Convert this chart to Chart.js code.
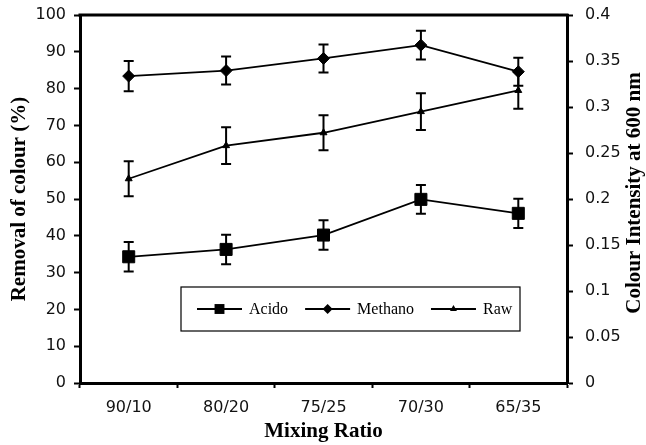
<!DOCTYPE html>
<html lang="en">
<head>
    <meta charset="UTF-8">
    <title>Removal of colour vs mixing ratio</title>
    <style>
        html, body { margin: 0; padding: 0; background: #fff; }
        #wrap { width: 646px; height: 445px; }
    </style>
</head>
<body>
    <div id="wrap"><canvas id="myChart" width="646" height="445"></canvas></div>

    <script src="https://cdn.jsdelivr.net/npm/chart.js"></script>
    <script>
    // data
    const categories = ['90/10', '80/20', '75/25', '70/30', '65/35'];
    const acido = [34.3, 36.3, 40.2, 49.9, 46.1];
    const acidoErr = [4.0, 4.0, 4.0, 3.9, 4.0];
    const methano = [83.4, 84.9, 88.2, 91.8, 84.6];
    const methanoErr = [4.1, 3.8, 3.8, 3.9, 3.8];
    // Raw is plotted against the right axis (colour intensity)
    const raw = [0.222, 0.258, 0.272, 0.295, 0.318];
    const rawErr = [0.019, 0.020, 0.019, 0.020, 0.020];

    const tickFont = { family: 'DejaVu Sans', size: 16 };
    const titleFont = { family: 'Liberation Serif', size: 21, weight: 'bold' };

    function drawMarker(ctx, style, x, y, r) {
        ctx.beginPath();
        if (style === 'rect') {
            const s = r * Math.SQRT1_2;
            ctx.rect(x - s, y - s, 2 * s, 2 * s);
        } else if (style === 'rectRot') {
            ctx.moveTo(x, y - r); ctx.lineTo(x + r, y); ctx.lineTo(x, y + r); ctx.lineTo(x - r, y);
            ctx.closePath();
        } else {
            ctx.moveTo(x, y - r); ctx.lineTo(x + r * 0.87, y + r * 0.5); ctx.lineTo(x - r * 0.87, y + r * 0.5);
            ctx.closePath();
        }
        ctx.fill();
    }

    // vertical error bars, drawn before the lines/markers
    const errorBars = {
        id: 'errorBars',
        beforeDatasetsDraw(chart) {
            const ctx = chart.ctx;
            ctx.save();
            ctx.strokeStyle = '#000';
            ctx.lineWidth = 2;
            chart.data.datasets.forEach((ds, i) => {
                const meta = chart.getDatasetMeta(i);
                const scale = chart.scales[ds.yAxisID];
                meta.data.forEach((pt, j) => {
                    const v = ds.data[j], e = ds.errors[j];
                    const yTop = scale.getPixelForValue(v + e);
                    const yBot = scale.getPixelForValue(v - e);
                    ctx.beginPath();
                    ctx.moveTo(pt.x, yTop); ctx.lineTo(pt.x, yBot);
                    ctx.moveTo(pt.x - 5, yTop); ctx.lineTo(pt.x + 5, yTop);
                    ctx.moveTo(pt.x - 5, yBot); ctx.lineTo(pt.x + 5, yBot);
                    ctx.stroke();
                });
            });
            ctx.restore();
        }
    };

    // frame top line, right axis title and the boxed legend
    const extras = {
        id: 'extras',
        afterDraw(chart) {
            const ctx = chart.ctx;
            const area = chart.chartArea;
            ctx.save();
            ctx.strokeStyle = '#000';
            ctx.lineWidth = 3;
            ctx.beginPath();
            ctx.moveTo(area.left - 1.5, area.top);
            ctx.lineTo(area.right + 1.5, area.top);
            ctx.stroke();

            // right title reads bottom to top
            ctx.fillStyle = '#000';
            ctx.font = 'bold 21px "Liberation Serif"';
            ctx.textAlign = 'center';
            ctx.textBaseline = 'middle';
            ctx.translate(635, (area.top + area.bottom) / 2 - 6);
            ctx.rotate(-Math.PI / 2);
            ctx.fillText('Colour Intensity at 600 nm', 0, 0);
            ctx.restore();

            // legend
            ctx.save();
            const bx = 181, by = 287, bw = 339, bh = 44;
            ctx.strokeStyle = '#000';
            ctx.lineWidth = 1.2;
            ctx.strokeRect(bx, by, bw, bh);
            ctx.font = '16px "Liberation Serif"';
            ctx.textBaseline = 'middle';
            ctx.textAlign = 'left';
            ctx.fillStyle = '#000';
            const cy = by + bh / 2;
            let x = bx + 16;
            chart.data.datasets.forEach(ds => {
                ctx.lineWidth = 1.8;
                ctx.beginPath();
                ctx.moveTo(x, cy); ctx.lineTo(x + 45, cy);
                ctx.stroke();
                drawMarker(ctx, ds.pointStyle, x + 22.5, cy, ds.legendRadius);
                ctx.fillText(ds.label, x + 52, cy + 1);
                x += 52 + ctx.measureText(ds.label).width + 17;
            });
            ctx.restore();
        }
    };

    const ctx = document.getElementById('myChart').getContext('2d');
    window.myChart = new Chart(ctx, {
        type: 'line',
        data: {
            labels: categories,
            datasets: [
                { label: 'Acido', data: acido, errors: acidoErr, yAxisID: 'y',
                  pointStyle: 'rect', pointRadius: 8.5, legendRadius: 7, borderWidth: 1.8 },
                { label: 'Methano', data: methano, errors: methanoErr, yAxisID: 'y',
                  pointStyle: 'rectRot', pointRadius: 6, legendRadius: 5, borderWidth: 1.8 },
                { label: 'Raw', data: raw, errors: rawErr, yAxisID: 'y1',
                  pointStyle: 'triangle', pointRadius: 4, legendRadius: 4, borderWidth: 1.8 }
            ].map(d => Object.assign({
                borderColor: '#000', backgroundColor: '#000',
                pointBackgroundColor: '#000', pointBorderColor: '#000', pointBorderWidth: 1,
                tension: 0, fill: false, clip: false
            }, d))
        },
        options: {
            responsive: false,
            animation: false,
            layout: { padding: { top: 15, left: 0, right: 0, bottom: 0 } },
            plugins: { legend: { display: false }, tooltip: { enabled: false } },
            scales: {
                x: {
                    offset: true,
                    grid: { offset: true, drawOnChartArea: false, tickLength: 5, tickWidth: 2, color: '#000' },
                    border: { color: '#000', width: 3 },
                    ticks: { font: tickFont, color: '#111', padding: 10, maxRotation: 0 },
                    title: { display: true, text: 'Mixing Ratio', font: titleFont, color: '#000', padding: { top: 4, bottom: 1 } },
                    afterFit(scale) { scale.height = 62; scale.paddingLeft = 0; scale.paddingRight = 0; }
                },
                y: {
                    position: 'left',
                    min: 0, max: 100,
                    ticks: { stepSize: 10, font: tickFont, color: '#111', padding: 8 },
                    grid: { drawOnChartArea: false, tickLength: 6, tickWidth: 2, color: '#000' },
                    border: { color: '#000', width: 3 },
                    title: { display: true, text: 'Removal of colour (%)', font: titleFont, color: '#000', padding: { top: 7, bottom: 0 } },
                    afterFit(scale) { scale.width = 80; scale.paddingTop = 0; scale.paddingBottom = 0; }
                },
                y1: {
                    position: 'right',
                    min: 0, max: 0.4,
                    ticks: { stepSize: 0.05, font: tickFont, color: '#111', padding: 12,
                             callback: v => String(Math.round(v * 100) / 100) },
                    grid: { drawOnChartArea: false, tickLength: 6, tickWidth: 2, color: '#000' },
                    border: { color: '#000', width: 3 },
                    afterFit(scale) { scale.width = 79; scale.paddingTop = 0; scale.paddingBottom = 0; }
                }
            }
        },
        plugins: [errorBars, extras]
    });
    </script>
</body>
</html>
